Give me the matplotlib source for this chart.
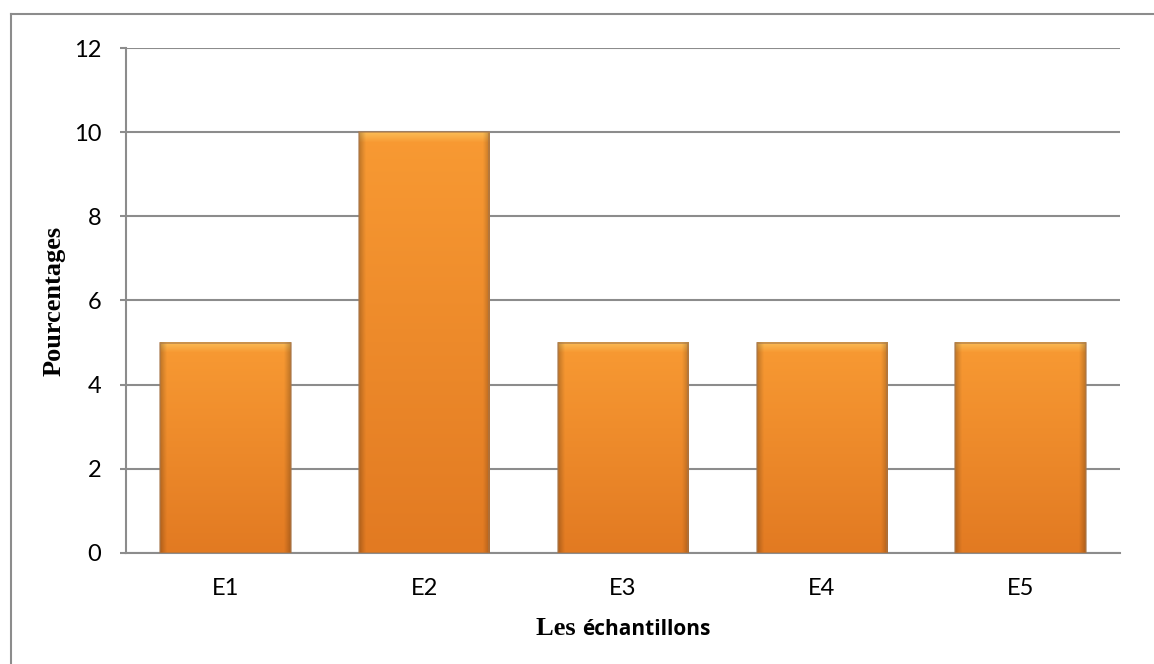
import numpy as np
import matplotlib.pyplot as plt
from matplotlib.colors import to_rgb
from matplotlib.lines import Line2D
from matplotlib.patches import Rectangle
from matplotlib.offsetbox import TextArea, HPacker, AnnotationBbox

# Percentages per sample
samples = ["E1", "E2", "E3", "E4", "E5"]
percentages = [5, 10, 5, 5, 5]
y_ticks = [0, 2, 4, 6, 8, 10, 12]


def bar_fill(height_px, width_px=64):
    """Vertical orange gradient with a light bevel along the top edge."""
    top = np.array(to_rgb("#F89A33"))
    bottom = np.array(to_rgb("#E27A22"))
    light = np.array(to_rgb("#FBC55E"))
    n = max(int(height_px), 2)
    t = np.linspace(0, 1, n)[:, None]
    col = top * (1 - t) + bottom * t
    bevel = min(10, n // 4)
    for i in range(bevel):
        w = (1 - i / bevel) * 0.8
        col[i] = light * w + col[i] * (1 - w)
    img = np.repeat(col[:, None, :], width_px, axis=1)
    # darker rim on the sides
    edge = np.ones(width_px)
    edge[:3] = [0.80, 0.87, 0.94]
    edge[-3:] = [0.94, 0.87, 0.80]
    return img * edge[None, :, None]


fig = plt.figure(figsize=(11.54, 6.64), dpi=100)
ax = fig.add_axes([0.1092, 0.1672, 0.8613, 0.7605])

grid_col = "#8C8C8C"
x = np.arange(len(samples))
width = 0.655

ax.set_xlim(-0.5, len(samples) - 0.5)
ax.set_ylim(0, 12)

px_per_unit = ax.get_window_extent().height / 12.0
for xi, val in zip(x, percentages):
    img = bar_fill(val * px_per_unit)
    ax.imshow(img, extent=(xi - width / 2, xi + width / 2, 0, val),
              aspect="auto", zorder=3, interpolation="bilinear")
    ax.add_patch(Rectangle((xi - width / 2, 0), width, val, fill=False,
                           edgecolor="#A8764A", linewidth=1.2, alpha=0.7,
                           zorder=4))

ax.set_xlim(-0.5, len(samples) - 0.5)
ax.set_ylim(0, 12)
ax.set_yticks(y_ticks)
ax.set_xticks(x)
ax.set_xticklabels(samples)
ax.yaxis.grid(True, color=grid_col, linewidth=1.5, zorder=0)
ax.set_axisbelow(True)

for side in ["top", "right"]:
    ax.spines[side].set_visible(False)
for side in ["left", "bottom"]:
    ax.spines[side].set_color(grid_col)
    ax.spines[side].set_linewidth(1.5)

ax.tick_params(axis="y", length=4, width=1.5, color=grid_col, pad=14,
               labelsize=17)
ax.tick_params(axis="x", length=0, pad=18, labelsize=17)
for lab in ax.get_xticklabels() + ax.get_yticklabels():
    lab.set_fontfamily("Lato")

ax.set_ylabel("Pourcentages", fontfamily="Liberation Serif",
              fontweight="bold", fontsize=19, labelpad=6)

# x-axis title mixes a serif and a sans-serif run
title = HPacker(children=[
    TextArea("Les ", textprops=dict(fontfamily="Liberation Serif",
                                    fontweight="bold", fontsize=19)),
    TextArea("échantillons", textprops=dict(fontfamily="Open Sans",
                                            fontweight="bold", fontsize=15)),
], align="baseline", pad=0, sep=0)
fig.add_artist(AnnotationBbox(title, (0.54, 0.054), xycoords="figure fraction",
                              frameon=False, box_alignment=(0.5, 0.5)))

# outer chart frame
fx0 = 10.5 / 1154
fy0 = 1 - 13.5 / 664
fig.add_artist(Line2D([fx0, 1.0], [fy0, fy0], color=grid_col, linewidth=1.5))
fig.add_artist(Line2D([fx0, fx0], [fy0, 0.0], color=grid_col, linewidth=1.5))

fig.savefig("out.png", dpi=100, facecolor="white")
